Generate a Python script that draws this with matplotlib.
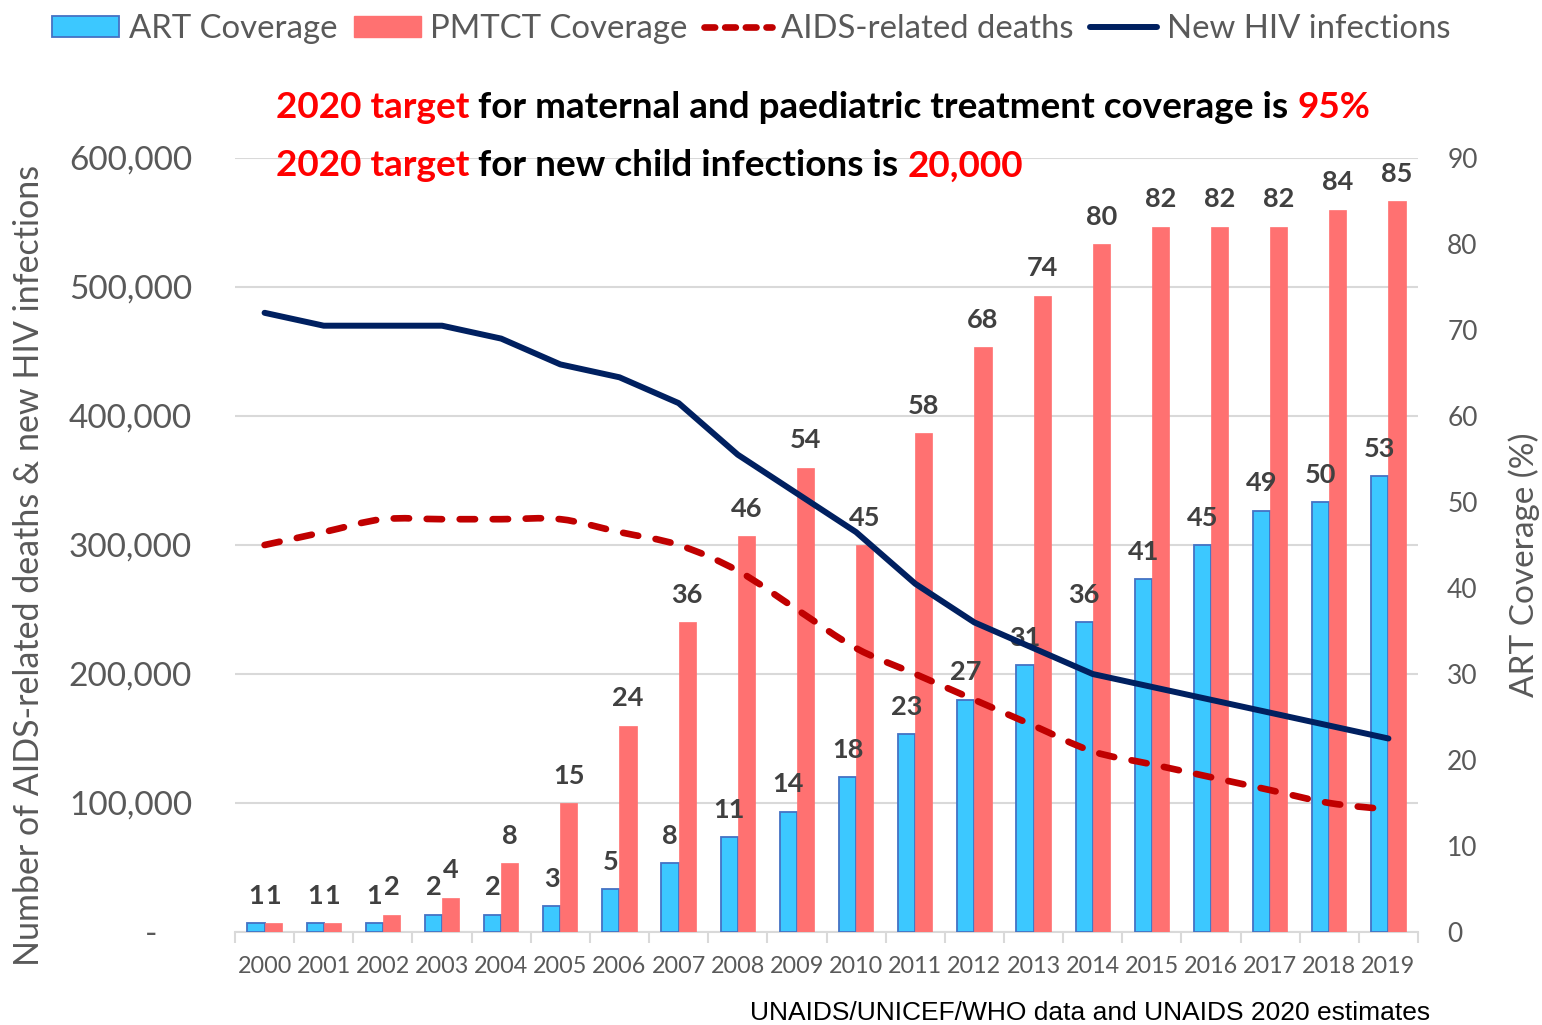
import matplotlib
matplotlib.use("Agg")
import matplotlib.pyplot as plt
import numpy as np
from matplotlib.path import Path
from matplotlib.patches import PathPatch, Patch
from matplotlib.lines import Line2D
from matplotlib.offsetbox import TextArea, HPacker, AnchoredOffsetbox
from matplotlib.ticker import FuncFormatter, FixedLocator

# ---------------- data ----------------
years = [str(y) for y in range(2000, 2020)]
art_coverage = [1, 1, 1, 2, 2, 3, 5, 8, 11, 14, 18, 23, 27, 31, 36, 41, 45, 49, 50, 53]
pmtct_coverage = [1, 1, 2, 4, 8, 15, 24, 36, 46, 54, 45, 58, 68, 74, 80, 82, 82, 82, 84, 85]
aids_deaths = [300000, 310000, 320000, 320000, 320000, 320000, 310000, 300000, 280000, 250000,
               220000, 200000, 180000, 160000, 140000, 130000, 120000, 110000, 100000, 95000]
new_infections = [480000, 470000, 470000, 470000, 460000, 440000, 430000, 410000, 370000, 340000,
                  310000, 270000, 240000, 220000, 200000, 190000, 180000, 170000, 160000, 150000]
left_ticks = [0, 100000, 200000, 300000, 400000, 500000, 600000]
right_ticks = [0, 10, 20, 30, 40, 50, 60, 70, 80, 90]

# ---------------- style ----------------
C_ART = "#3CC8FF"
C_ART_EDGE = "#4472C4"
C_PMTCT = "#FF7171"
C_DEATH = "#C00000"
C_NEW = "#002060"
C_GRAY = "#595959"
C_LAB = "#404040"
C_GRID = "#D9D9D9"
FONT = ["Lato", "DejaVu Sans"]
plt.rcParams["font.family"] = FONT

W, H = 1542, 1025
fig = plt.figure(figsize=(W / 100, H / 100), dpi=100)
L, R, T, B = 235, 1418, 158, 932
rect = [L / W, 1 - B / H, (R - L) / W, (B - T) / H]

ax = fig.add_axes(rect)             # left axis, grid
ax2 = fig.add_axes(rect, sharex=ax)  # bars, right axis
ax3 = fig.add_axes(rect, sharex=ax)  # lines, left scale
for a in (ax2, ax3):
    a.patch.set_visible(False)

x = np.arange(len(years))
n = len(years)

# left axis
ax.set_ylim(0, 600000)
ax.set_xlim(-0.5, n - 0.5)
ax.yaxis.set_major_locator(FixedLocator(left_ticks))
ax.yaxis.set_major_formatter(FuncFormatter(lambda v, p: "-    " if v == 0 else f"{v:,.0f}"))
ax.grid(axis="y", color=C_GRID, linewidth=1.5)
ax.tick_params(axis="y", length=0, pad=31, labelsize=24, labelcolor=C_GRAY)
for s in ["top", "right", "left"]:
    ax.spines[s].set_visible(False)
ax.spines["bottom"].set_color(C_GRID)
ax.spines["bottom"].set_linewidth(1.5)
ax.set_xticks(x)
ax.set_xticklabels(years)
ax.set_xticks(np.arange(-0.5, n, 1.0), minor=True)
ax.tick_params(axis="x", which="major", length=0, pad=17, labelcolor=C_GRAY, labelsize=16.8)
ax.tick_params(axis="x", which="minor", length=8, color=C_GRID, width=1.5)
ax.set_ylabel("Number of AIDS-related deaths & new HIV infections", fontsize=24.5, color=C_GRAY)
ax.yaxis.set_label_coords(-0.1606, 0.474)

# right axis with bars
w = 0.29
ax2.set_ylim(0, 90)
ax2.yaxis.tick_right()
ax2.yaxis.set_label_position("right")
ax2.yaxis.set_major_locator(FixedLocator(right_ticks))
ax2.tick_params(axis="y", length=0, pad=21, labelsize=19, labelcolor=C_GRAY)
ax2.tick_params(axis="x", which="both", length=0, labelbottom=False)
for s in ax2.spines.values():
    s.set_visible(False)
ax2.bar(x - w / 2, art_coverage, width=w, color=C_ART, edgecolor=C_ART_EDGE, linewidth=1.3)
ax2.bar(x + w / 2, pmtct_coverage, width=w, color=C_PMTCT, edgecolor=C_PMTCT, linewidth=0.5)
for xi, v in zip(x - w / 2, art_coverage):
    ax2.annotate(str(v), (xi, v), xytext=(0, 14), textcoords="offset points", ha="center",
                 va="baseline", fontsize=19.5, fontweight="bold", color=C_LAB)
for xi, v in zip(x + w / 2, pmtct_coverage):
    ax2.annotate(str(v), (xi, v), xytext=(0, 14), textcoords="offset points", ha="center",
                 va="baseline", fontsize=19.5, fontweight="bold", color=C_LAB)
ax2.set_ylabel("ART Coverage (%)", fontsize=24, color=C_GRAY)
ax2.yaxis.set_label_coords(1.076, 0.474)

# lines on top
ax3.set_ylim(0, 600000)
ax3.axis("off")
# smooth dashed curve (Catmull-Rom rendered as cubic Bezier)
px = np.asarray(x, float)
py = np.asarray(aids_deaths, float)
verts = [(px[0], py[0])]
codes = [Path.MOVETO]
for i in range(n - 1):
    p0 = np.array([px[max(i - 1, 0)], py[max(i - 1, 0)]])
    p1 = np.array([px[i], py[i]])
    p2 = np.array([px[i + 1], py[i + 1]])
    p3 = np.array([px[min(i + 2, n - 1)], py[min(i + 2, n - 1)]])
    c1 = p1 + (p2 - p0) / 6
    c2 = p2 - (p3 - p1) / 6
    verts += [tuple(c1), tuple(c2), tuple(p2)]
    codes += [Path.CURVE4] * 3
patch = PathPatch(Path(verts, codes), fill=False, edgecolor=C_DEATH, linewidth=4.8,
                  linestyle=(0, (2.3, 2.65)), capstyle="round", joinstyle="round")
ax3.add_patch(patch)
ax3.plot(x, new_infections, color=C_NEW, linewidth=4.3, solid_capstyle="round",
         solid_joinstyle="round")

# legend
handles = [Patch(facecolor=C_ART, edgecolor=C_ART_EDGE, linewidth=1.3),
           Patch(facecolor=C_PMTCT, edgecolor=C_PMTCT),
           Line2D([0], [0], color=C_DEATH, linewidth=4.8, linestyle=(0, (1.6, 1.5)),
                  dash_capstyle="round"),
           Line2D([0], [0], color=C_NEW, linewidth=4.3, solid_capstyle="round")]
labels = ["ART Coverage", "PMTCT Coverage", "AIDS-related deaths", "New HIV infections"]
leg = fig.legend(handles, labels, loc="center", bbox_to_anchor=(751 / W, 1 - 29 / H), ncol=4,
                 frameon=False, fontsize=23.7, handlelength=2.05, handleheight=0.62,
                 handletextpad=0.28, columnspacing=0.5, borderaxespad=0)
for t in leg.get_texts():
    t.set_color(C_GRAY)


# title lines with mixed colours
def mixed_line(parts, xpix, ypix, size):
    boxes = [TextArea(s, textprops=dict(color=c, fontsize=size, fontweight="bold", family=FONT))
             for s, c in parts]
    pack = HPacker(children=boxes, align="baseline", pad=0, sep=0)
    anch = AnchoredOffsetbox(loc="center left", child=pack, pad=0, borderpad=0, frameon=False,
                             bbox_to_anchor=(xpix / W, 1 - ypix / H),
                             bbox_transform=fig.transFigure)
    fig.add_artist(anch)


mixed_line([("2020 target", "#FF0000"),
            (" for maternal and paediatric treatment coverage is ", "#000000"),
            ("95%", "#FF0000")], 276, 108, 26.6)
mixed_line([("2020 target", "#FF0000"),
            (" for new child infections is ", "#000000"),
            ("20,000", "#FF0000")], 276, 166, 26.6)

fig.text(1430 / W, 1 - 1013 / H, "UNAIDS/UNICEF/WHO data and UNAIDS 2020 estimates",
         ha="right", va="center", fontsize=19, color="#000000",
         family=["Liberation Sans", "DejaVu Sans"])

fig.savefig("out.png", dpi=100)
